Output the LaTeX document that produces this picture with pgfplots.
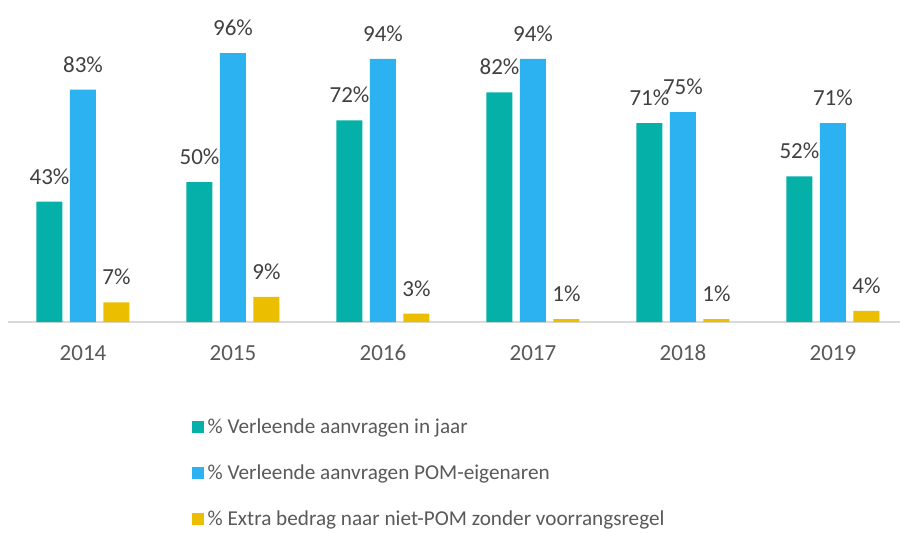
\documentclass[border=0pt]{standalone}
\usepackage{pgfplots}
\pgfplotsset{compat=1.18}
\usepackage{fontspec}
\setmainfont{Carlito}
\definecolor{cTeal}{RGB}{4,176,168}
\definecolor{cBlue}{RGB}{44,178,240}
\definecolor{cYel}{RGB}{235,190,0}
\definecolor{cTxt}{RGB}{64,64,64}
\definecolor{cTick}{RGB}{89,89,89}
\definecolor{cAxis}{RGB}{217,217,217}
\begin{document}
\begin{tikzpicture}
\useasboundingbox (0,0) rectangle (450pt,266pt);
\begin{axis}[
  at={(4pt,105pt)}, anchor=south west,
  scale only axis, width=446pt, height=140pt,
  xmin=-0.5, xmax=5.447, ymin=0, ymax=100,
  axis x line*=bottom, axis y line=none,
  x axis line style={draw=cAxis, line width=0.75pt, -},
  xtick={0,1,2,3,4,5},
  xticklabels={2014,2015,2016,2017,2018,2019},
  major tick length=0pt,
  xticklabel style={anchor=base, yshift=-19pt, inner sep=0pt, font=\fontsize{11.5}{13}\selectfont, text=cTick},
  /pgf/number format/assume math mode=true,
  ybar, bar width=13pt,
  clip=false,
  nodes near coords={\pgfmathprintnumber{\pgfplotspointmeta}\%},
  every node near coord/.append style={anchor=base, inner sep=0pt, yshift=8.8pt, font=\fontsize{11.5}{13}\selectfont, text=cTxt},
  legend image code/.code={\fill[#1] (0pt,-3pt) rectangle (6pt,3pt);},
  legend cell align=left,
  legend style={at={(axis description cs:0.206,-0.338)}, anchor=north west, draw=none, fill=none,
    font=\fontsize{10.6}{12}\selectfont, text=cTick, row sep=13.1pt, inner sep=0pt,
    nodes={inner sep=0pt, text height=8pt, text depth=2pt}},
]
\addplot[fill=cTeal, draw=none, bar shift=-16.75pt] coordinates {(0,43) (1,50) (2,72) (3,82) (4,71) (5,52)};
\addplot[fill=cBlue, draw=none, bar shift=0pt] coordinates {(0,83) (1,96) (2,94) (3,94) (4,75) (5,71)};
\addplot[fill=cYel, draw=none, bar shift=16.75pt] coordinates {(0,7) (1,9) (2,3) (3,1) (4,1) (5,4)};
\legend{\,\% Verleende aanvragen in jaar, \,\% Verleende aanvragen POM-eigenaren, \,\% Extra bedrag naar niet-POM zonder voorrangsregel}
\end{axis}
\end{tikzpicture}
\end{document}
